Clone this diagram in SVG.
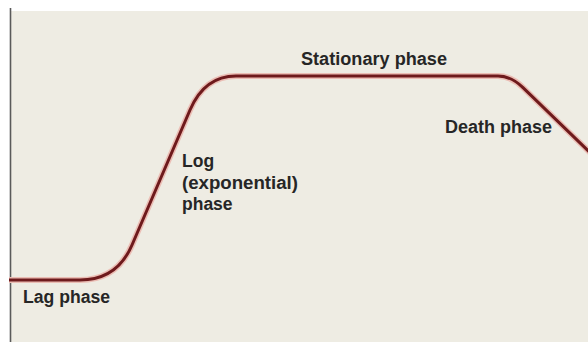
<svg xmlns="http://www.w3.org/2000/svg" width="588" height="342" viewBox="0 0 588 342">
  <style>
    .lbl { font-family: "Liberation Sans", Arial, sans-serif; font-weight: bold; font-size: 17.5px; fill: #262626; }
    .halo { fill: none; stroke: #ebbdb4; stroke-width: 6; stroke-linejoin: round; }
    .curve { fill: none; stroke: #6e1a1c; stroke-width: 3; stroke-linejoin: round; }
  </style>
  <rect x="0" y="0" width="588" height="342" fill="#ffffff"/>
  <rect x="11" y="11" width="577" height="331" fill="#eeece3"/>
  <g id="axis">
    <line x1="10.5" y1="8" x2="10.5" y2="342" stroke="#5a5a5a" stroke-width="1.6"/>
  </g>
  <g id="connectors">
    <path class="halo" d="M 9 280 H 80 Q 117 280 132 245 L 190 110 Q 204.6 76 236 76 H 498 Q 511 76 523 87.6 L 592 154.5"/>
    <path class="curve" d="M 9 280 H 80 Q 117 280 132 245 L 190 110 Q 204.6 76 236 76 H 498 Q 511 76 523 87.6 L 592 154.5"/>
  </g>
  <g id="lag"><text class="lbl" x="23" y="303" textLength="87" lengthAdjust="spacingAndGlyphs">Lag phase</text></g>
  <g id="log">
    <text class="lbl" x="182" y="167">Log</text>
    <text class="lbl" x="182" y="189" textLength="116" lengthAdjust="spacingAndGlyphs">(exponential)</text>
    <text class="lbl" x="182" y="210">phase</text>
  </g>
  <g id="stationary"><text class="lbl" x="301" y="65" textLength="146" lengthAdjust="spacingAndGlyphs">Stationary phase</text></g>
  <g id="death"><text class="lbl" x="445" y="133" textLength="107" lengthAdjust="spacingAndGlyphs">Death phase</text></g>
</svg>
